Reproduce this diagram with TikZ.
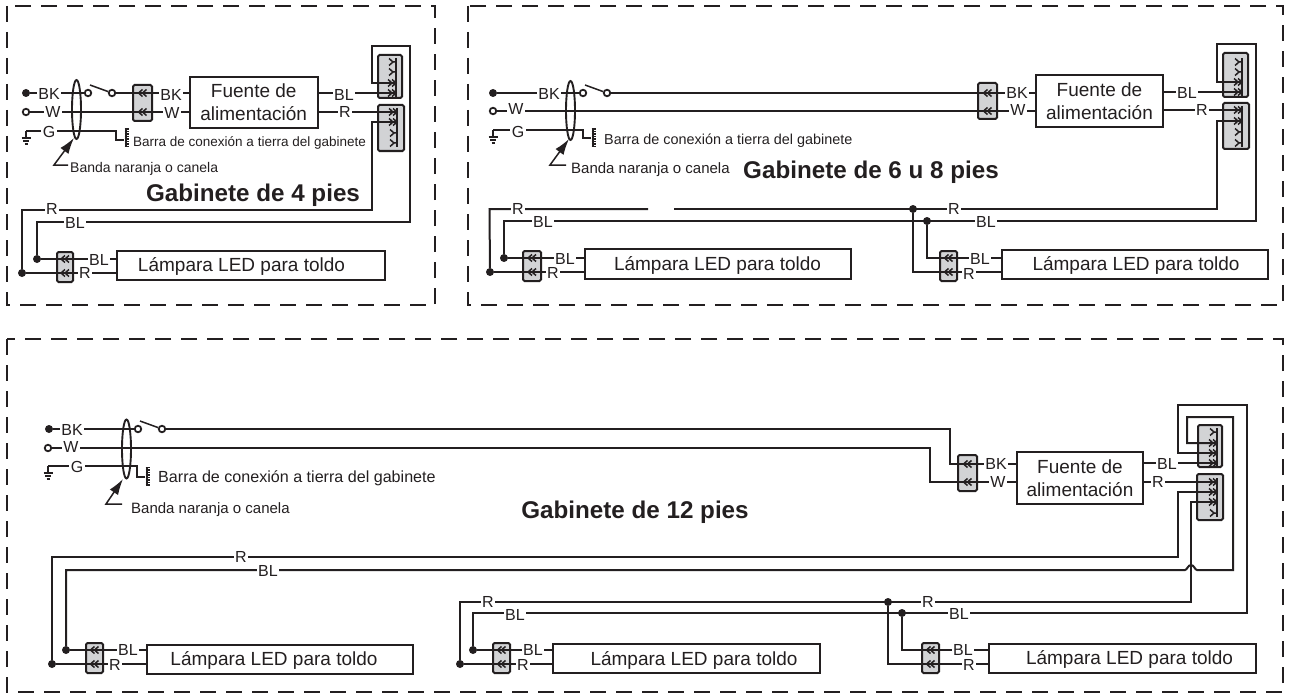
\documentclass[tikz,border=0pt]{standalone}
\usepackage{fontspec}
\setmainfont{Liberation Sans}
\usetikzlibrary{shapes.geometric,arrows.meta}
\definecolor{ink}{HTML}{231F20}
\definecolor{termfill}{HTML}{D2D3D5}
\newcommand{\fs}[1]{\fontsize{#1}{#1}\selectfont}
\tikzset{
 wire/.style={line width=2pt,draw=ink},
 panel/.style={line width=1.9pt,draw=ink,dash pattern=on 16pt off 10pt},
 boxn/.style={draw=ink,line width=2pt,fill=white,inner sep=0pt,outer sep=0pt,align=center,text=ink,font=\fontsize{19}{23}\selectfont},
 lamptext/.style={inner sep=0pt,text=ink,font=\fs{19},yshift=-1.5pt},
 term/.style={draw=ink,line width=2pt,fill=termfill,rounded corners=1.5pt,inner sep=0pt,outer sep=0pt},
 lbl/.style={fill=white,inner sep=1.5pt,text=ink,font=\fs{16},yshift=-1pt},
 opn/.style={circle,draw=ink,line width=1.8pt,fill=white,inner sep=0pt,minimum size=6.5pt},
 dotn/.style={circle,fill=ink,inner sep=0pt,minimum size=8pt},
 band/.style={ellipse,draw=ink,line width=1.9pt,inner sep=0pt,minimum width=9pt,minimum height=59pt},
 note/.style={anchor=west,inner sep=0pt,text=ink,yshift=-1.5pt},
 ttl/.style={inner sep=0pt,text=ink,font=\bfseries\fs{24.2},yshift=-2pt},
 leader/.style={line width=1.5pt,draw=ink,-{Latex[length=16pt,width=10pt]}},
 leftchev/.pic={\draw[ink,line width=1.5pt] (0,-3.5)--(-4,0)--(0,3.5) (4,-3.5)--(0,0)--(4,3.5);},
 fullrow/.pic={\draw[ink,line width=1.5pt] (-8,-3.5)--(-4,0)--(-8,3.5) (-4,-3.5)--(0,0)--(-4,3.5);},
 emptyrow/.pic={\draw[ink,line width=1.5pt] (-7,-3.5)--(-3,0)--(-7,3.5) (-3,0)--(0,0);},
 gnd/.pic={\draw[ink,line width=1.7pt] (0,0)--(0,6) (-4.5,7)--(4.5,7); \draw[ink,line width=1.4pt] (-3,10)--(3,10) (-1.5,13)--(1.5,13);},
 gbar/.pic={\draw[ink,line width=1.3pt] (1,-9.5)--(1,9.5); \foreach \q in {-9,-6.5,-4,-1.5,1,3.5,6,8.5} {\draw[ink,line width=1.2pt] (-0.5,\q)--(3.8,\q);}},
}
\begin{document}
\begin{tikzpicture}[x=1pt,y=-1pt]
\useasboundingbox (0,0) rectangle (1290,698);
\draw[panel] (7,6) rectangle (435,305);
\draw[panel] (468,6) rectangle (1283,305);
\draw[panel] (7,339) rectangle (1283,692);

% ===== Panel 1
\node[term,minimum width=19pt,minimum height=36pt] (aT) at (142.5,103) {};
\node[term,minimum width=24pt,minimum height=43pt] (aU) at (390,76.5) {};
\node[term,minimum width=26pt,minimum height=46pt] (aL) at (391,128) {};
\node[term,minimum width=16pt,minimum height=30pt] (aK) at (65,267) {};
\node[boxn,minimum width=127.5pt,minimum height=51pt] (aPS) at (253.75,102.5) {Fuente de\\alimentación};
\node[boxn,minimum width=268pt,minimum height=29pt] (aLamp) at (251,265.5) {};
\node[lamptext] (aLampT) at (241.5,265) {Lámpara LED para toldo};
\node[band] (aO) at (76.5,109.5) {};
\node[dotn] (aBK) at (26,93) {};
\node[opn] (aW) at (26,112) {};
\node[opn] (aS1) at (88,93) {};
\node[opn] (aS2) at (112,93) {};
\coordinate (aBlade) at (90,85);
\coordinate (aG) at (26,131);
\coordinate (aGb) at (124,140);
\coordinate (aU3) at (396,83);
\coordinate (aU4) at (396,93);
\coordinate (aL1) at (397,112);
\coordinate (aL2) at (397,122);
\node[dotn] (aRd) at (22,273) {};
\node[dotn] (aBd) at (37,259) {};
\draw[wire] (aBK) -- (aS1);
\draw[line width=1.5pt,ink] (aBlade) -- (aS2);
\draw[wire] (aS2) -- (aPS.west |- aS2);
\draw[wire] (aW) -- (aPS.west |- aW);
\draw[wire] (aG) -- (116,131) -- (116,140) -- (aGb);
\pic at (aG) {gnd};
\pic at (125,138) {gbar};
\draw[wire] (aPS.east |- aU4) -- (aU4);
\draw[wire] (aPS.east |- aL1) -- (aL1);
\draw[wire] (aU3) -- (372,83) -- (372,46) -- (410,46) -- (410,222) -- (37,222) -- (aBd);
\draw[wire] (aL2) -- (372,122) -- (372,210) -- (22,210) -- (aRd);
\draw[wire] (aBd) -- (aLamp.west |- aBd);
\draw[wire] (aRd) -- (aLamp.west |- aRd);
\pic at (aT.center |- aS2) {leftchev};
\pic at (aT.center |- aW) {leftchev};
\pic at (aK.center |- aBd) {leftchev};
\pic at (aK.center |- aRd) {leftchev};
\draw[ink,line width=1.7pt] (396,58) -- (396,97) (397,108) -- (397,147);
\pic at (396,62) {emptyrow}; \pic at (396,72) {emptyrow}; \pic at (aU3) {fullrow}; \pic at (aU4) {fullrow};
\pic at (aL1) {fullrow}; \pic at (aL2) {fullrow}; \pic at (397,133) {emptyrow}; \pic at (397,143) {emptyrow};
\node[lbl] (aLBK) at (49,93) {BK};
\node[lbl] (aLW) at (53,111) {W};
\node[lbl] (aLG) at (49,131) {G};
\node[lbl] (aLBK2) at (171,94) {BK};
\node[lbl] (aLW2) at (172,112) {W};
\node[lbl] (aLBL) at (344,94) {BL};
\node[lbl] (aLR) at (345,111) {R};
\node[lbl] (aLR2) at (52,208) {R};
\node[lbl] (aLBL2) at (75,222) {BL};
\node[lbl] (aLBL3) at (99,259) {BL};
\node[lbl] (aLR3) at (85,272) {R};
\node[note,font=\fs{13.5}] (aBar) at (133,141) {Barra de conexión a tierra del gabinete};
\node[note,font=\fs{14}] (aBan) at (70,167) {Banda naranja o canela};
\coordinate (aBc) at (68,165);
\draw[leader] (aBc) -- (54,165) -- (74,138);
\node[ttl] (aTi) at (253,193) {Gabinete de 4 pies};

% ===== Panel 2
\node[term,minimum width=19pt,minimum height=36pt] (bT) at (987.5,101) {};
\node[term,minimum width=25pt,minimum height=44pt] (bU) at (1235.5,75) {};
\node[term,minimum width=26pt,minimum height=46pt] (bL) at (1236,126) {};
\node[term,minimum width=18pt,minimum height=30pt] (bK) at (532,266) {};
\node[term,minimum width=17pt,minimum height=30pt] (bM) at (948.5,266) {};
\node[boxn,minimum width=127pt,minimum height=52pt] (bPS) at (1099.5,101) {Fuente de\\alimentación};
\node[boxn,minimum width=266pt,minimum height=30pt] (bLamp) at (718,264) {};
\node[lamptext] (bLampT) at (717.5,264) {Lámpara LED para toldo};
\node[boxn,minimum width=266pt,minimum height=29pt] (bLamp2) at (1135,264.5) {};
\node[lamptext] (bLamp2T) at (1136,264) {Lámpara LED para toldo};
\node[band] (bO) at (570.5,110.5) {};
\node[dotn] (bBK) at (493,93) {};
\node[opn] (bW) at (493,111) {};
\node[opn] (bS1) at (583,93) {};
\node[opn] (bS2) at (607,93) {};
\coordinate (bBlade) at (585,85);
\coordinate (bG) at (493,130);
\coordinate (bGb) at (591,138);
\coordinate (bU3) at (1242,82);
\coordinate (bU4) at (1242,92);
\coordinate (bL1) at (1242,110);
\coordinate (bL2) at (1242,121);
\node[dotn] (bRd) at (490,272) {};
\node[dotn] (bBd) at (504,258) {};
\node[dotn] (bRj) at (913,209) {};
\node[dotn] (bBj) at (927,221) {};
\draw[wire] (bBK) -- (bS1);
\draw[line width=1.5pt,ink] (bBlade) -- (bS2);
\draw[wire] (bS2) -- (bPS.west |- bS2);
\draw[wire] (bW) -- (bPS.west |- bW);
\draw[wire] (bG) -- (583,130) -- (583,138) -- (bGb);
\pic at (bG) {gnd};
\pic at (592,138) {gbar};
\draw[wire] (bPS.east |- bU4) -- (bU4);
\draw[wire] (bPS.east |- bL1) -- (bL1);
\draw[wire] (bU3) -- (1217,82) -- (1217,44) -- (1256,44) -- (1256,221) -- (504,221) -- (bBd);
\draw[wire] (bL2) -- (1217,121) -- (1217,209) -- (674,209);
\draw[wire] (648,209) -- (489.5,209) -- (bRd);
\draw[wire] (bBd) -- (bLamp.west |- bBd);
\draw[wire] (bRd) -- (bLamp.west |- bRd);
\draw[wire] (bRj) -- (913,272) -- (bLamp2.west |- 0,272);
\draw[wire] (bBj) -- (927,258) -- (bLamp2.west |- 0,258);
\pic at (bT.center |- bS2) {leftchev};
\pic at (bT.center |- bW) {leftchev};
\pic at (bK.center |- bBd) {leftchev};
\pic at (bK.center |- bRd) {leftchev};
\pic at (948.5,258) {leftchev};
\pic at (948.5,272) {leftchev};
\draw[ink,line width=1.7pt] (1242,58) -- (1242,96) (1242,106) -- (1242,147);
\pic at (1242,62) {emptyrow}; \pic at (1242,72) {emptyrow}; \pic at (bU3) {fullrow}; \pic at (bU4) {fullrow};
\pic at (bL1) {fullrow}; \pic at (bL2) {fullrow}; \pic at (1242,132) {emptyrow}; \pic at (1242,143) {emptyrow};
\node[lbl] (bLBK) at (549,93) {BK};
\node[lbl] (bLW) at (516,108) {W};
\node[lbl] (bLG) at (518,131) {G};
\node[lbl] (bLBK2) at (1017,92) {BK};
\node[lbl] (bLW2) at (1018,109) {W};
\node[lbl] (bLBL) at (1187,92) {BL};
\node[lbl] (bLR) at (1202,109) {R};
\node[lbl] (bLR2) at (518,208) {R};
\node[lbl] (bLBL2) at (543,221) {BL};
\node[lbl] (bLBL3) at (565,258) {BL};
\node[lbl] (bLR3) at (553,272) {R};
\node[lbl] (bLR4) at (954,208) {R};
\node[lbl] (bLBL4) at (986,221) {BL};
\node[lbl] (bLBL5) at (980,258) {BL};
\node[lbl] (bLR5) at (969,273) {R};
\node[note,font=\fs{14.4}] (bBar) at (604,139) {Barra de conexión a tierra del gabinete};
\node[note,font=\fs{15}] (bBan) at (571,168) {Banda naranja o canela};
\coordinate (bBc) at (566,165);
\draw[leader] (bBc) -- (550,165) -- (569,139);
\node[ttl] (bTi) at (871,170) {Gabinete de 6 u 8 pies};

% ===== Panel 3
\node[term,minimum width=19pt,minimum height=36pt] (cT) at (967.5,473) {};
\node[term,minimum width=24pt,minimum height=42pt] (cU) at (1210,446) {};
\node[term,minimum width=26pt,minimum height=46pt] (cL) at (1210,497) {};
\node[term,minimum width=17pt,minimum height=30pt] (cK) at (94.5,658) {};
\node[term,minimum width=17pt,minimum height=30pt] (cM) at (501.5,658) {};
\node[term,minimum width=17pt,minimum height=30pt] (cN) at (930.5,658) {};
\node[boxn,minimum width=126pt,minimum height=52pt] (cPS) at (1080,478) {Fuente de\\alimentación};
\node[boxn,minimum width=266pt,minimum height=29pt] (cLamp) at (280,659.5) {};
\node[lamptext] (cLampT) at (274,659) {Lámpara LED para toldo};
\node[boxn,minimum width=267pt,minimum height=29pt] (cLamp2) at (686.5,658.5) {};
\node[lamptext] (cLamp2T) at (694,659) {Lámpara LED para toldo};
\node[boxn,minimum width=267pt,minimum height=29pt] (cLamp3) at (1122.5,658.5) {};
\node[lamptext] (cLamp3T) at (1129.5,658) {Lámpara LED para toldo};
\node[band] (cO) at (126.5,449) {};
\node[dotn] (cBK) at (49,429) {};
\node[opn] (cW) at (48,448) {};
\node[opn] (cS1) at (138,429) {};
\node[opn] (cS2) at (162,429) {};
\coordinate (cBlade) at (140,421);
\coordinate (cG) at (48,466);
\coordinate (cGb) at (145,477);
\coordinate (cU2) at (1217,443);
\coordinate (cU3) at (1217,453);
\coordinate (cU4) at (1217,463);
\coordinate (cL1) at (1217,482);
\coordinate (cL2) at (1217,492);
\coordinate (cL3) at (1217,502);
\node[dotn] (cRd) at (52,664) {};
\node[dotn] (cBd) at (66,650) {};
\node[dotn] (cRe) at (460,664) {};
\node[dotn] (cBe) at (473,650) {};
\node[dotn] (cRj) at (888,602) {};
\node[dotn] (cBj) at (902,613) {};
\draw[wire] (cBK) -- (cS1);
\draw[line width=1.5pt,ink] (cBlade) -- (cS2);
\draw[wire] (cS2) -- (950,429) -- (950,464) -- (cPS.west |- 0,464);
\draw[wire] (cW) -- (930,448) -- (930,482) -- (cPS.west |- 0,482);
\draw[wire] (cG) -- (137,466) -- (137,477) -- (cGb);
\pic at (cG) {gnd};
\pic at (146,476.5) {gbar};
\draw[wire] (cPS.east |- cU4) -- (cU4);
\draw[wire] (cPS.east |- cL1) -- (cL1);
\draw[wire] (cU2) -- (1187,443) -- (1187,417) -- (1233,417) -- (1233,570) -- (1197,570) .. controls (1195,570) and (1194,565) .. (1191,565) .. controls (1188,565) and (1187,570) .. (1185,570) -- (66,570) -- (cBd);
\draw[wire] (cU3) -- (1178,453) -- (1178,405) -- (1247,405) -- (1247,613) -- (473,613) -- (cBe);
\draw[wire] (cL2) -- (1178,492) -- (1178,557) -- (52,557) -- (cRd);
\draw[wire] (cL3) -- (1191,502) -- (1191,602) -- (460,602) -- (cRe);
\draw[wire] (cBd) -- (cLamp.west |- cBd);
\draw[wire] (cRd) -- (cLamp.west |- cRd);
\draw[wire] (cBe) -- (cLamp2.west |- cBe);
\draw[wire] (cRe) -- (cLamp2.west |- cRe);
\draw[wire] (cBj) -- (902,650) -- (cLamp3.west |- 0,650);
\draw[wire] (cRj) -- (888,664) -- (cLamp3.west |- 0,664);
\pic at (967.5,464) {leftchev};
\pic at (967.5,482) {leftchev};
\foreach \tx in {94.5,501.5,930.5} {\pic at (\tx,650) {leftchev}; \pic at (\tx,664) {leftchev};}
\draw[ink,line width=1.7pt] (1217,428) -- (1217,467) (1217,478) -- (1217,517);
\pic at (1217,432) {emptyrow}; \pic at (cU2) {fullrow}; \pic at (cU3) {fullrow}; \pic at (cU4) {fullrow};
\pic at (cL1) {fullrow}; \pic at (cL2) {fullrow}; \pic at (cL3) {fullrow}; \pic at (1217,513) {emptyrow};
\node[lbl] (cLBK) at (72,429) {BK};
\node[lbl] (cLW) at (71,446) {W};
\node[lbl] (cLG) at (77,466) {G};
\node[lbl] (cLBK2) at (996,463) {BK};
\node[lbl] (cLW2) at (998,481) {W};
\node[lbl] (cLBL) at (1167,463) {BL};
\node[lbl] (cLR) at (1158,481) {R};
\node[lbl] (cLR2) at (241,556) {R};
\node[lbl] (cLBL2) at (268,570) {BL};
\node[lbl] (cLBL3) at (128,649) {BL};
\node[lbl] (cLR3) at (115,664) {R};
\node[lbl] (cLR4) at (488,601) {R};
\node[lbl] (cLBL4) at (515,614) {BL};
\node[lbl] (cLBL5) at (533,649) {BL};
\node[lbl] (cLR5) at (523,664) {R};
\node[lbl] (cLR6) at (928,601) {R};
\node[lbl] (cLBL6) at (959,613) {BL};
\node[lbl] (cLBL7) at (963,649) {BL};
\node[lbl] (cLR7) at (969,664) {R};
\node[note,font=\fs{16.1}] (cBar) at (158,477) {Barra de conexión a tierra del gabinete};
\node[note,font=\fs{15}] (cBan) at (131,508) {Banda naranja o canela};
\coordinate (cBc) at (122,504);
\draw[leader] (cBc) -- (106,504) -- (123,479);
\node[ttl] (cTi) at (635,510) {Gabinete de 12 pies};
\end{tikzpicture}
\end{document}
